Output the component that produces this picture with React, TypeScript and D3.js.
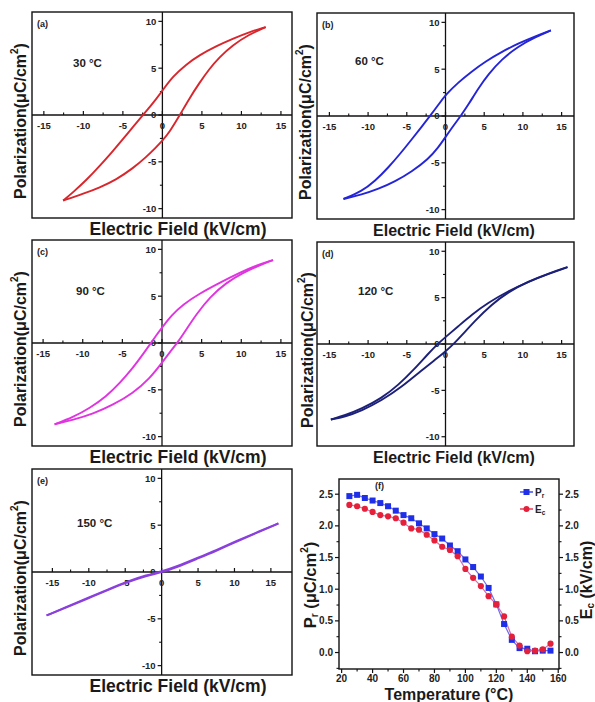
import React from 'react';
import * as d3 from 'd3';

// ---------- data ----------
const loopXTicks = [-15, -10, -5, 0, 5, 10, 15];
const loopXMinor = [-12.5, -7.5, -2.5, 2.5, 7.5, 12.5];
const loopYTicks = [-10, -5, 0, 5, 10];
const loopYMinor = [-7.5, -2.5, 2.5, 7.5];

const aUpper: [number, number][] = [
  [13.07, 9.39], [11.0, 8.85], [8.9, 8.15], [6.8, 7.35], [4.7, 6.4], [3.0, 5.4], [1.3, 4.1],
  [0, 2.6], [-0.8, 1.7], [-1.64, 0.82], [-2.48, -0.03], [-3.74, -1.3], [-5.0, -2.58],
  [-6.26, -3.85], [-7.94, -5.45], [-9.62, -6.95], [-11.3, -8.25], [-12.56, -9.14],
];
const aLower: [number, number][] = [
  [-12.56, -9.14], [-10.04, -8.42], [-7.94, -7.75], [-5.84, -6.9], [-3.74, -5.7], [-2.06, -4.5],
  [-0.8, -3.45], [0, -2.75], [0.88, -1.85], [2.14, -0.1], [3.4, 1.75], [4.66, 3.4], [5.92, 4.9],
  [7.18, 6.15], [8.87, 7.45], [10.97, 8.6], [13.07, 9.39],
];
const bUpper: [number, number][] = [
  [13.61, 9.14], [11.55, 8.5], [9.4, 7.75], [7.25, 6.85], [5.1, 5.8], [3.38, 4.75], [1.66, 3.6],
  [0, 2.25], [-0.92, 1.2], [-2.0, 0], [-3.08, -1.15], [-4.37, -2.5], [-5.87, -4.05], [-7.38, -5.5],
  [-9.1, -6.95], [-10.82, -8.05], [-13.18, -8.86],
];
const bLower: [number, number][] = [
  [-13.18, -8.86], [-10.82, -8.4], [-8.67, -7.8], [-6.52, -7.0], [-4.37, -5.95], [-2.22, -4.6],
  [-0.92, -3.35], [0, -2.25], [1.01, -1.05], [2.0, 0.05], [2.95, 1.2], [4.24, 2.95], [5.53, 4.45],
  [7.25, 6.05], [9.4, 7.45], [11.55, 8.4], [13.61, 9.14],
];
const cUpper: [number, number][] = [
  [14.01, 8.86], [11.91, 8.29], [9.8, 7.5], [7.28, 6.43], [4.75, 5.29], [2.65, 4.11], [1.18, 2.95],
  [0, 1.65], [-0.72, 0.82], [-1.4, 0], [-2.4, -1.2], [-3.66, -2.65], [-5.34, -4.3], [-7.03, -5.7],
  [-9.13, -6.96], [-11.23, -7.93], [-13.55, -8.68],
];
const cLower: [number, number][] = [
  [-13.55, -8.68], [-11.23, -8.21], [-8.71, -7.57], [-6.18, -6.61], [-3.66, -5.36], [-1.56, -3.8],
  [0, -2.1], [0.97, -1.0], [2.02, 0.1], [3.07, 1.45], [4.33, 3.05], [6.02, 4.9], [8.12, 6.45],
  [10.22, 7.5], [12.33, 8.3], [14.01, 8.86],
];
const dUpper: [number, number][] = [
  [15.76, 8.29], [13.26, 7.55], [10.68, 6.7], [8.09, 5.7], [5.51, 4.45], [3.36, 3.15], [1.64, 1.9],
  [0, 0.75], [-0.95, 0.05], [-2.24, -1.05], [-3.96, -2.65], [-6.11, -4.45], [-8.27, -5.85],
  [-10.85, -7.0], [-13.0, -7.7], [-14.81, -8.14],
];
const dLower: [number, number][] = [
  [-14.81, -8.14], [-13.0, -7.85], [-10.85, -7.2], [-8.27, -6.1], [-5.68, -4.65], [-3.1, -2.85],
  [-0.95, -1.45], [0, -0.8], [0.99, -0.05], [2.07, 0.9], [3.79, 2.5], [5.94, 4.25], [8.09, 5.6],
  [10.68, 6.75], [13.26, 7.6], [15.76, 8.29],
];
const eUpper: [number, number][] = [
  [16.03, 5.18], [13.06, 4.24], [10.31, 3.32], [7.56, 2.36], [4.81, 1.47], [2.06, 0.58], [0, 0.05],
  [-2.06, -0.32], [-4.81, -1.03], [-7.56, -1.93], [-10.31, -2.83], [-13.06, -3.72], [-15.8, -4.64],
];
const eLower: [number, number][] = [
  [-15.8, -4.64], [-13.06, -3.78], [-10.31, -2.89], [-7.56, -1.99], [-4.81, -1.11], [-2.06, -0.4],
  [0, -0.05], [2.06, 0.5], [4.81, 1.39], [7.56, 2.28], [10.31, 3.26], [13.06, 4.18], [16.03, 5.18],
];

const tempC = [25, 30, 35, 40, 45, 50, 55, 60, 65, 70, 75, 80, 85, 90, 95, 100, 105, 110, 115, 120, 125, 130, 135, 140, 145, 150, 155];
const prValues = [2.47, 2.49, 2.44, 2.40, 2.36, 2.31, 2.24, 2.17, 2.12, 2.04, 1.96, 1.87, 1.80, 1.69, 1.60, 1.47, 1.35, 1.20, 1.02, 0.76, 0.45, 0.20, 0.07, 0.06, 0.02, 0.03, 0.03];
const ecValues = [2.33, 2.31, 2.27, 2.22, 2.17, 2.15, 2.12, 2.05, 1.96, 1.94, 1.86, 1.77, 1.67, 1.62, 1.52, 1.32, 1.18, 1.05, 0.89, 0.76, 0.57, 0.25, 0.11, 0.02, 0.03, 0.05, 0.14];
const fXTicks = [20, 40, 60, 80, 100, 120, 140, 160];
const fXMinor = [30, 50, 70, 90, 110, 130, 150];
const fYTicks = [0, 0.5, 1.0, 1.5, 2.0, 2.5];
const fYMinor = [-0.25, 0.25, 0.75, 1.25, 1.75, 2.25];

const FONT = 'Arial, "Liberation Sans", Helvetica, sans-serif';

type Frame = { x0: number; x1: number; y0: number; y1: number };

interface LoopProps {
  frame: Frame;
  xDomain: [number, number];
  upper: [number, number][];
  lower: [number, number][];
  color: string;
  tag: string;
  temp: string;
  tempPos: [number, number];
  xLabelCx: number;
  xLabelSize: number;
  yLabelX: number;
}

function LoopPanel(p: LoopProps) {
  const { frame } = p;
  const x = d3.scaleLinear().domain(p.xDomain).range([frame.x0, frame.x1]);
  const y = d3.scaleLinear().domain([-11, 11]).range([frame.y1, frame.y0]);
  const line = d3
    .line<[number, number]>()
    .x((d) => x(d[0]))
    .y((d) => y(d[1]))
    .curve(d3.curveBasis);
  const ax = x(0);
  const ay = y(0);
  const yMid = (frame.y0 + frame.y1) / 2 + 6;
  return (
    <g>
      <rect x={frame.x0} y={frame.y0} width={frame.x1 - frame.x0} height={frame.y1 - frame.y0} fill="white" stroke="#111" strokeWidth={1.4} />
      <line x1={frame.x0} x2={frame.x1} y1={ay} y2={ay} stroke="#111" strokeWidth={1.3} />
      <line x1={ax} x2={ax} y1={frame.y0} y2={frame.y1} stroke="#111" strokeWidth={1.3} />
      {loopXTicks.map((t) => (
        <g key={'xt' + t}>
          <line x1={x(t)} x2={x(t)} y1={ay} y2={ay - 4} stroke="#111" strokeWidth={1.2} />
          <text x={x(t)} y={ay + 14} textAnchor="middle" fontSize={9.5} fontWeight="bold" fontFamily={FONT} fill="#222">{t}</text>
        </g>
      ))}
      {loopXMinor.map((t) => (
        <line key={'xm' + t} x1={x(t)} x2={x(t)} y1={ay} y2={ay - 2.5} stroke="#111" strokeWidth={1.1} />
      ))}
      {loopYTicks.map((t) => (
        <g key={'yt' + t}>
          <line x1={ax - 4} x2={ax} y1={y(t)} y2={y(t)} stroke="#111" strokeWidth={1.2} />
          <text x={ax - 6} y={y(t) + 3.4} textAnchor="end" fontSize={9.5} fontWeight="bold" fontFamily={FONT} fill="#222">{t}</text>
        </g>
      ))}
      {loopYMinor.map((t) => (
        <line key={'ym' + t} x1={ax - 2.5} x2={ax} y1={y(t)} y2={y(t)} stroke="#111" strokeWidth={1.1} />
      ))}
      <path d={line(p.upper) || ''} fill="none" stroke={p.color} strokeWidth={1.9} strokeLinejoin="round" />
      <path d={line(p.lower) || ''} fill="none" stroke={p.color} strokeWidth={1.9} strokeLinejoin="round" />
      <text x={frame.x0 + 5} y={frame.y0 + 15} fontSize={9} fontWeight="bold" fontFamily={FONT} fill="#222">{p.tag}</text>
      <text x={p.tempPos[0]} y={p.tempPos[1]} fontSize={11.5} fontWeight="bold" fontFamily={FONT} fill="#222">{p.temp}</text>
      <text x={p.xLabelCx} y={frame.y1 + 17} textAnchor="middle" fontSize={p.xLabelSize} fontWeight="bold" fontFamily={FONT} fill="#1a1a1a">Electric Field (kV/cm)</text>
      <text transform={`translate(${p.yLabelX},${yMid}) rotate(-90)`} textAnchor="middle" dominantBaseline="central" fontSize={16} fontWeight="bold" fontFamily={FONT} fill="#1a1a1a">
        Polarization(μC/cm<tspan fontSize={10} dy={-6}>2</tspan><tspan dy={6}>)</tspan>
      </text>
    </g>
  );
}

function TempPanel() {
  const frame: Frame = { x0: 339, x1: 559, y0: 479, y1: 669 };
  const x = d3.scaleLinear().domain([18.3, 160.5]).range([frame.x0, frame.x1]);
  const y = d3.scaleLinear().domain([-0.26, 2.74]).range([frame.y1, frame.y0]);
  const seriesLine = d3.line<number>().x((_, i) => x(tempC[i])).y((d) => y(d));
  const fmt = d3.format('.1f');
  const midY = 585;
  return (
    <g>
      <rect x={frame.x0} y={frame.y0} width={frame.x1 - frame.x0} height={frame.y1 - frame.y0} fill="white" stroke="#111" strokeWidth={1.4} />
      {fYTicks.map((t) => (
        <g key={'fy' + t}>
          <line x1={frame.x0 - 4} x2={frame.x0} y1={y(t)} y2={y(t)} stroke="#111" strokeWidth={1.2} />
          <line x1={frame.x1} x2={frame.x1 + 4} y1={y(t)} y2={y(t)} stroke="#111" strokeWidth={1.2} />
          <text x={frame.x0 - 6} y={y(t) + 3.5} textAnchor="end" fontSize={10} fontWeight="bold" fontFamily={FONT} fill="#222">{fmt(t)}</text>
          <text x={frame.x1 + 6} y={y(t) + 3.5} textAnchor="start" fontSize={10} fontWeight="bold" fontFamily={FONT} fill="#222">{fmt(t)}</text>
        </g>
      ))}
      {fYMinor.map((t) => (
        <g key={'fym' + t}>
          <line x1={frame.x0 - 2.5} x2={frame.x0} y1={y(t)} y2={y(t)} stroke="#111" strokeWidth={1.1} />
          <line x1={frame.x1} x2={frame.x1 + 2.5} y1={y(t)} y2={y(t)} stroke="#111" strokeWidth={1.1} />
        </g>
      ))}
      {fXTicks.map((t) => (
        <g key={'fx' + t}>
          <line x1={x(t)} x2={x(t)} y1={frame.y1} y2={frame.y1 + 4} stroke="#111" strokeWidth={1.2} />
          <text x={x(t)} y={frame.y1 + 13} textAnchor="middle" fontSize={10} fontWeight="bold" fontFamily={FONT} fill="#222">{t}</text>
        </g>
      ))}
      {fXMinor.map((t) => (
        <line key={'fxm' + t} x1={x(t)} x2={x(t)} y1={frame.y1} y2={frame.y1 + 2.5} stroke="#111" strokeWidth={1.1} />
      ))}
      <path d={seriesLine(prValues) || ''} fill="none" stroke="#4a46e6" strokeWidth={1.2} opacity={0.8} />
      <path d={seriesLine(ecValues) || ''} fill="none" stroke="#c54a9a" strokeWidth={1.2} opacity={0.8} />
      {prValues.map((v, i) => (
        <rect key={'pr' + i} x={x(tempC[i]) - 3} y={y(v) - 3} width={6} height={6} fill="#1f2fe8" />
      ))}
      {ecValues.map((v, i) => (
        <circle key={'ec' + i} cx={x(tempC[i])} cy={y(v)} r={3.1} fill="#e5203a" />
      ))}
      <text x={375} y={489} fontSize={9} fontWeight="bold" fontFamily={FONT} fill="#222">(f)</text>
      <line x1={520} x2={533} y1={492} y2={492} stroke="#1f2fe8" strokeWidth={1.3} />
      <rect x={523.5} y={489} width={6} height={6} fill="#1f2fe8" />
      <text x={535} y={495.5} fontSize={10} fontWeight="bold" fontFamily={FONT} fill="#222">P<tspan fontSize={6.5} dy={2.5}>r</tspan></text>
      <line x1={520} x2={533} y1={509} y2={509} stroke="#e5203a" strokeWidth={1.3} />
      <circle cx={526.5} cy={509} r={3} fill="#e5203a" />
      <text x={535} y={512.5} fontSize={10} fontWeight="bold" fontFamily={FONT} fill="#222">E<tspan fontSize={6.5} dy={2.5}>c</tspan></text>
      <text x={449} y={700} textAnchor="middle" fontSize={16} fontWeight="bold" fontFamily={FONT} fill="#1a1a1a">Temperature (°C)</text>
      <text transform={`translate(310,${midY}) rotate(-90)`} textAnchor="middle" dominantBaseline="central" fontSize={16.5} fontWeight="bold" fontFamily={FONT} fill="#1a1a1a">
        P<tspan fontSize={10} dy={4}>r</tspan><tspan dy={-4}> (μC/cm</tspan><tspan fontSize={10} dy={-6}>2</tspan><tspan dy={6}>)</tspan>
      </text>
      <text transform={`translate(586,${midY - 5}) rotate(-90)`} textAnchor="middle" dominantBaseline="central" fontSize={16} fontWeight="bold" fontFamily={FONT} fill="#1a1a1a">
        E<tspan fontSize={10} dy={4}>c</tspan><tspan dy={-4}> (kV/cm)</tspan>
      </text>
    </g>
  );
}

export default function App() {
  return (
    <svg width={595} height={702} style={{ position: 'absolute', left: 0, top: 0, background: 'white' }}>
      <rect x={0} y={0} width={595} height={702} fill="white" />
      <LoopPanel frame={{ x0: 32, x1: 292, y0: 12, y1: 218 }} xDomain={[-16.5, 16.4]} upper={aUpper} lower={aLower}
        color="#d8262c" tag="(a)" temp="30 °C" tempPos={[73, 67]} xLabelCx={178} xLabelSize={17.5} yLabelX={20} />
      <LoopPanel frame={{ x0: 317, x1: 574, y0: 13, y1: 219 }} xDomain={[-16.6, 16.6]} upper={bUpper} lower={bLower}
        color="#2424d8" tag="(b)" temp="60 °C" tempPos={[355, 65]} xLabelCx={454} xLabelSize={16} yLabelX={305} />
      <LoopPanel frame={{ x0: 32, x1: 292, y0: 240, y1: 446 }} xDomain={[-16.4, 16.4]} upper={cUpper} lower={cLower}
        color="#e034e0" tag="(c)" temp="90 °C" tempPos={[76, 295]} xLabelCx={178} xLabelSize={17.5} yLabelX={20} />
      <LoopPanel frame={{ x0: 317, x1: 574, y0: 242, y1: 446 }} xDomain={[-16.6, 16.6]} upper={dUpper} lower={dLower}
        color="#1c2078" tag="(d)" temp="120 °C" tempPos={[358, 295]} xLabelCx={454} xLabelSize={16} yLabelX={307} />
      <LoopPanel frame={{ x0: 32, x1: 292, y0: 469, y1: 675 }} xDomain={[-17.8, 17.9]} upper={eUpper} lower={eLower}
        color="#8a40dc" tag="(e)" temp="150 °C" tempPos={[77, 527]} xLabelCx={178} xLabelSize={17.5} yLabelX={20} />
      <TempPanel />
    </svg>
  );
}
